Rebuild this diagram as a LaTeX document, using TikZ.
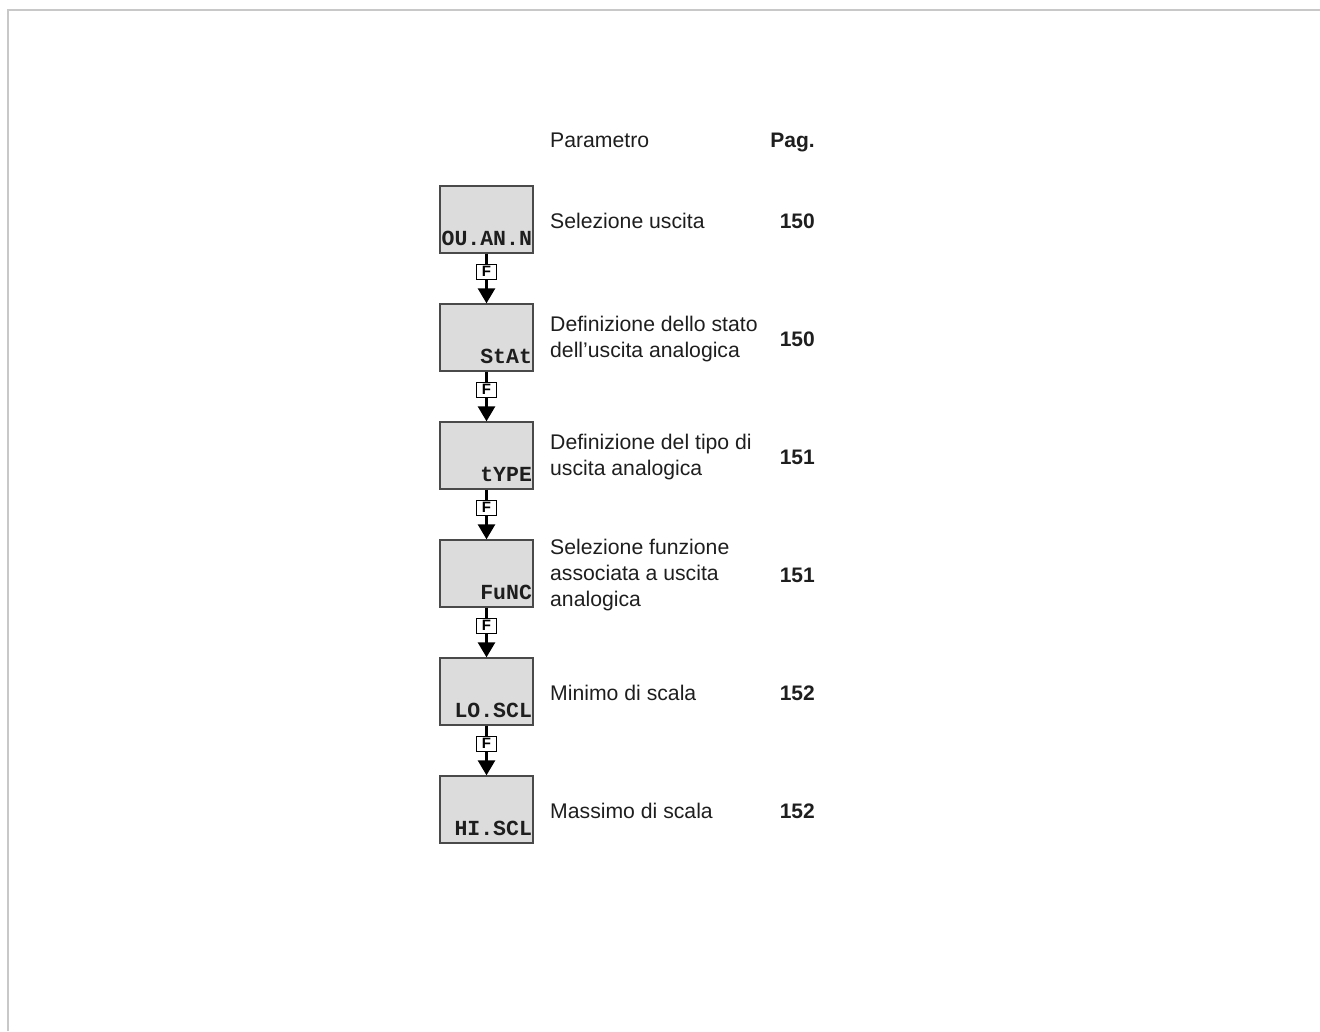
\documentclass[tikz,border=0pt]{standalone}
\usepackage{fontspec}
\setmainfont{Liberation Sans}
\setmonofont{Liberation Mono}
\usetikzlibrary{arrows.meta,positioning}
\definecolor{boxfill}{HTML}{DCDCDC}
\definecolor{boxline}{HTML}{4A4A4A}
\definecolor{framec}{HTML}{C8C8C8}
\definecolor{txt}{HTML}{1E1E1E}
\tikzset{
  parbox/.style={draw=boxline, fill=boxfill, line width=1.3pt, minimum width=93pt, minimum height=67pt, inner sep=0pt},
  codelbl/.style={anchor=base east, text=txt, font=\ttfamily\bfseries\fontsize{21.5}{24}\selectfont, inner sep=0pt},
  desc/.style={anchor=west, align=left, text=txt, font=\fontsize{21.2}{26}\selectfont, inner sep=0pt},
  pagno/.style={anchor=east, text=txt, font=\bfseries\fontsize{21}{25}\selectfont, inner sep=0pt},
  fkey/.style={draw=black, fill=white, line width=1pt, minimum width=20pt, minimum height=15pt, inner sep=0pt, font=\bfseries\fontsize{15}{15}\selectfont},
  stem/.style={line width=2.6pt, -{Triangle[width=17pt,length=15pt]}}
}
\begin{document}
\begin{tikzpicture}[x=1pt,y=-1pt]
\useasboundingbox (0,0) rectangle (1320,1031);
\draw[framec, line width=2pt] (8,1031) -- (8,10) -- (1320,10);
\node[desc, anchor=base west] (hp) at (550,147.5) {Parametro};
\node[pagno, anchor=base east] (hg) at (815,147.5) {Pag.};
\foreach \i/\c in {1/OU.AN.N,2/StAt,3/tYPE,4/FuNC,5/LO.SCL,6/HI.SCL}{
  \node[parbox] (b\i) at (486.5,{219.5+118*(\i-1)}) {};
  \node[codelbl] (c\i) at ([xshift=-1.5pt,yshift=8pt]b\i.south east) {\c};
}
\node[desc] (d1) at (550,221) {Selezione uscita};
\node[desc] (d2) at (550,339) {Definizione dello stato\\dell’uscita analogica};
\node[desc] (d3) at (550,457) {Definizione del tipo di\\uscita analogica};
\node[desc] (d4) at (550,575) {Selezione funzione\\associata a uscita\\analogica};
\node[desc] (d5) at (550,693) {Minimo di scala};
\node[desc] (d6) at (550,811) {Massimo di scala};
\node[pagno] (p1) at (815,221) {150};
\node[pagno] (p2) at (815,339) {150};
\node[pagno] (p3) at (815,457) {151};
\node[pagno] (p4) at (815,575) {151};
\node[pagno] (p5) at (815,693) {152};
\node[pagno] (p6) at (815,811) {152};
\foreach \i/\j in {1/2,2/3,3/4,4/5,5/6}{
  \draw[stem] (b\i.south) -- (b\j.north) node[fkey, pos=0.36] (f\i) {F};
}
\end{tikzpicture}
\end{document}
